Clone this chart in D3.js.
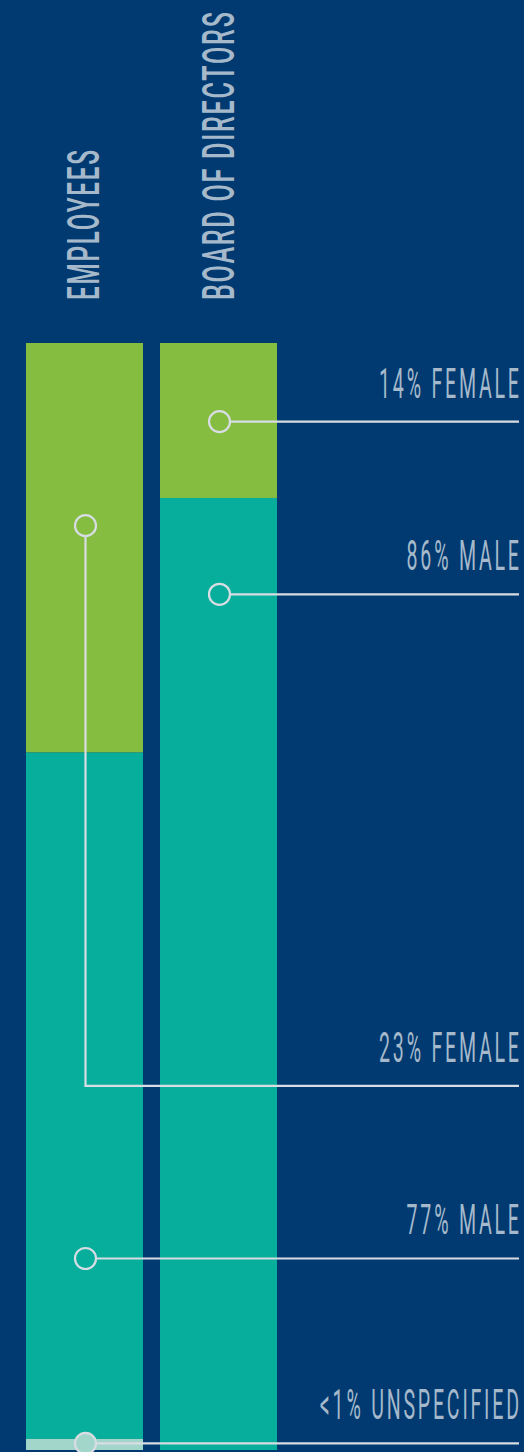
<!DOCTYPE html>
<html>
<head>
<meta charset="utf-8">
<script src="https://cdn.jsdelivr.net/npm/d3@7"></script>
<style>
  html, body { margin: 0; padding: 0; background: #003a70; }
  svg { display: block; }
</style>
</head>
<body>
<svg id="chart" width="524" height="1452"></svg>
<script>
// ── data ───────────────────────────────────────────────────────────────────
const groups = ['EMPLOYEES', 'BOARD OF DIRECTORS'];
const segments = ['female', 'male', 'unspecified'];
// segment shares as drawn (percent of the bar height)
const employeeShares = [37, 62, 1];
const boardShares = [14, 86, 0];
// callouts: which bar/segment, where the dot sits and where the leader runs (in % units)
const calloutLabels = ['14% FEMALE', '86% MALE', '23% FEMALE', '77% MALE', '<1% UNSPECIFIED'];
const calloutGroup  = [1, 1, 0, 0, 0];
const calloutSeg    = [0, 1, 0, 1, 2];
const calloutDot    = [7.1, 22.7, 16.5, 82.7, 99.4];
const calloutLine   = [7.1, 22.7, 67.1, 82.7, 99.4];

const COLORS = { female: '#85bd40', male: '#07ae9b', unspecified: '#a2d6cb' };
const TEXT = '#a5b9cb', LEADER = '#d8dde3';

// ── scales ─────────────────────────────────────────────────────────────────
const svg = d3.select('#chart');
const x = d3.scaleBand().domain(groups).range([26, 277]).paddingInner(0.127).paddingOuter(0);
const y = d3.scaleLinear().domain([0, 100]).range([343, 1450]);
const rightEdge = 519;

const shares = [employeeShares, boardShares];
const stacked = groups.map((g, gi) => {
  let acc = 0;
  return segments.map((s, si) => {
    const v = shares[gi][si];
    const d = { group: g, seg: s, y0: acc, y1: acc + v };
    acc += v;
    return d;
  }).filter(d => d.y1 > d.y0);
});

// ── bars ───────────────────────────────────────────────────────────────────
svg.append('g').selectAll('rect').data(stacked.flat()).join('rect')
  .attr('x', d => x(d.group))
  .attr('width', x.bandwidth())
  .attr('y', d => y(d.y0))
  .attr('height', d => y(d.y1) - y(d.y0))
  .attr('fill', d => COLORS[d.seg]);

// ── titles (vertical) ──────────────────────────────────────────────────────
const titleLen = [150, 288];
const titles = svg.append('g').selectAll('text').data(groups).join('text')
  .attr('font-family', 'Roboto, "DejaVu Sans Condensed", sans-serif')
  .attr('font-size', 44)
  .attr('font-weight', 500)
  .attr('letter-spacing', 3)
  .attr('fill', TEXT)
  .text(d => d);
titles.each(function(d, i) {
  const nat = this.getComputedTextLength() - 3;
  const cx = x(d) + x.bandwidth() / 2 + 15;
  d3.select(this).attr('transform', `translate(${cx},300) rotate(-90) scale(${titleLen[i] / nat},1)`);
});

// ── callouts ───────────────────────────────────────────────────────────────
const r = 10.5;
const callouts = calloutLabels.map((label, i) => ({
  label, group: groups[calloutGroup[i]], seg: segments[calloutSeg[i]],
  dot: calloutDot[i], line: calloutLine[i]
}));

const cg = svg.append('g');
callouts.forEach(c => {
  const cx = x(c.group) + x.bandwidth() / 2 + 1;
  const cy = y(c.dot), ly = y(c.line);
  const path = cy === ly
    ? `M${cx + r},${cy}H${rightEdge}`
    : `M${cx},${cy + r}V${ly}H${rightEdge}`;
  cg.append('path').attr('d', path)
    .attr('fill', 'none').attr('stroke', LEADER).attr('stroke-width', 2.2);
  cg.append('circle').attr('cx', cx).attr('cy', cy).attr('r', r)
    .attr('fill', COLORS[c.seg]).attr('stroke', LEADER).attr('stroke-width', 2.2);
});

const spacing = 6;
const labels = cg.selectAll('text.lab').data(callouts).join('text')
  .attr('class', 'lab')
  .attr('font-family', 'Roboto, "DejaVu Sans Condensed", sans-serif')
  .attr('font-size', 42)
  .attr('font-weight', 400)
  .attr('letter-spacing', spacing)
  .attr('fill', TEXT)
  .attr('text-anchor', 'end')
  .text(d => d.label);
// condensed look: squeeze every label by the same factor
const ref = labels.filter((d, i) => i === 0).node().getComputedTextLength() - spacing;
const sx = 140 / ref;
labels.attr('transform', d => `translate(${rightEdge + spacing * sx},${y(d.line) - 24}) scale(${sx},1)`);
</script>
</body>
</html>
